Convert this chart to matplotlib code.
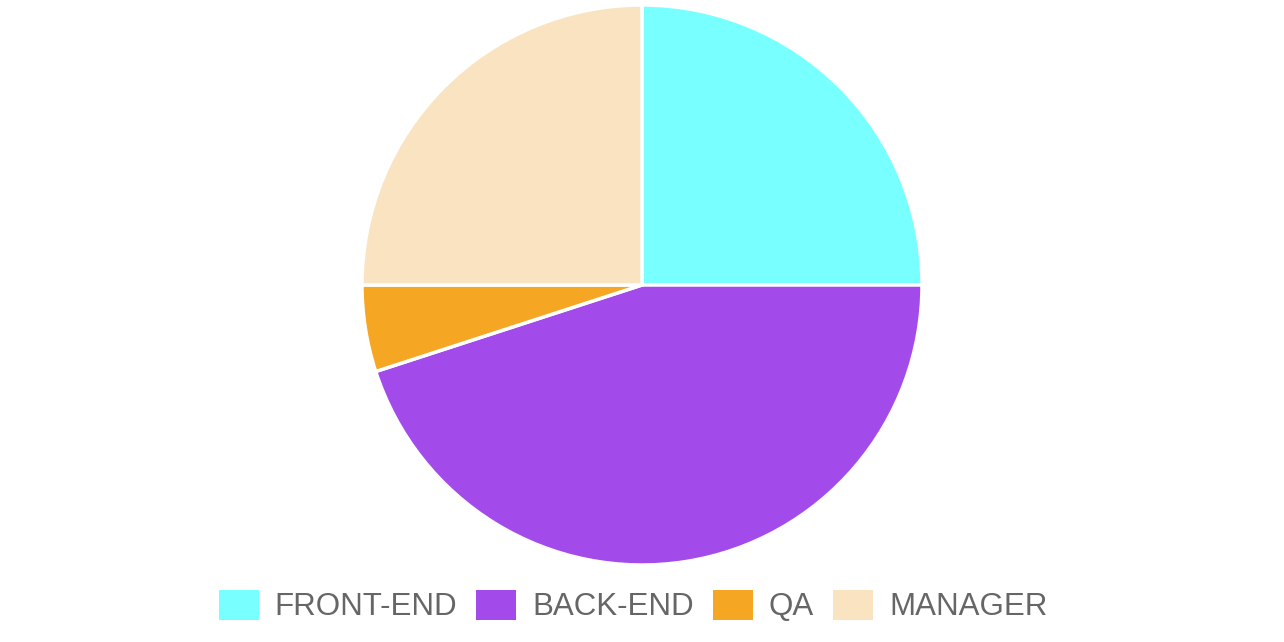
import matplotlib.pyplot as plt

labels = ['FRONT-END', 'BACK-END', 'QA', 'MANAGER']
values = [25, 45, 5, 25]
colors = ['#78FFFF', '#A24BEA', '#F5A623', '#FAE3C0']

W, H = 1284, 642
fig = plt.figure(figsize=(W / 100, H / 100), dpi=100)

# pie centre at (642, 285) px from top, radius 280 px
cx, cy, r = 642, 285, 280
ax = fig.add_axes([(cx - r) / W, (H - cy - r) / H, 2 * r / W, 2 * r / H])
wedges, _ = ax.pie(values, colors=colors, startangle=90, counterclock=False,
                   radius=1, wedgeprops=dict(edgecolor='white', linewidth=2.5))
ax.set_xlim(-1, 1)
ax.set_ylim(-1, 1)
ax.set_aspect('equal')
ax.axis('off')

leg = fig.legend(wedges, labels, loc='center', bbox_to_anchor=(633 / W, 1 - 606 / H),
                 ncol=4, frameon=False, prop={'family': 'Liberation Sans', 'size': 22.5},
                 handlelength=1.28, handleheight=1.1, handletextpad=0.5,
                 columnspacing=0.62, labelcolor='#666666')
for h in leg.legend_handles:
    h.set_edgecolor('none')

fig.savefig('out.png', dpi=100)
